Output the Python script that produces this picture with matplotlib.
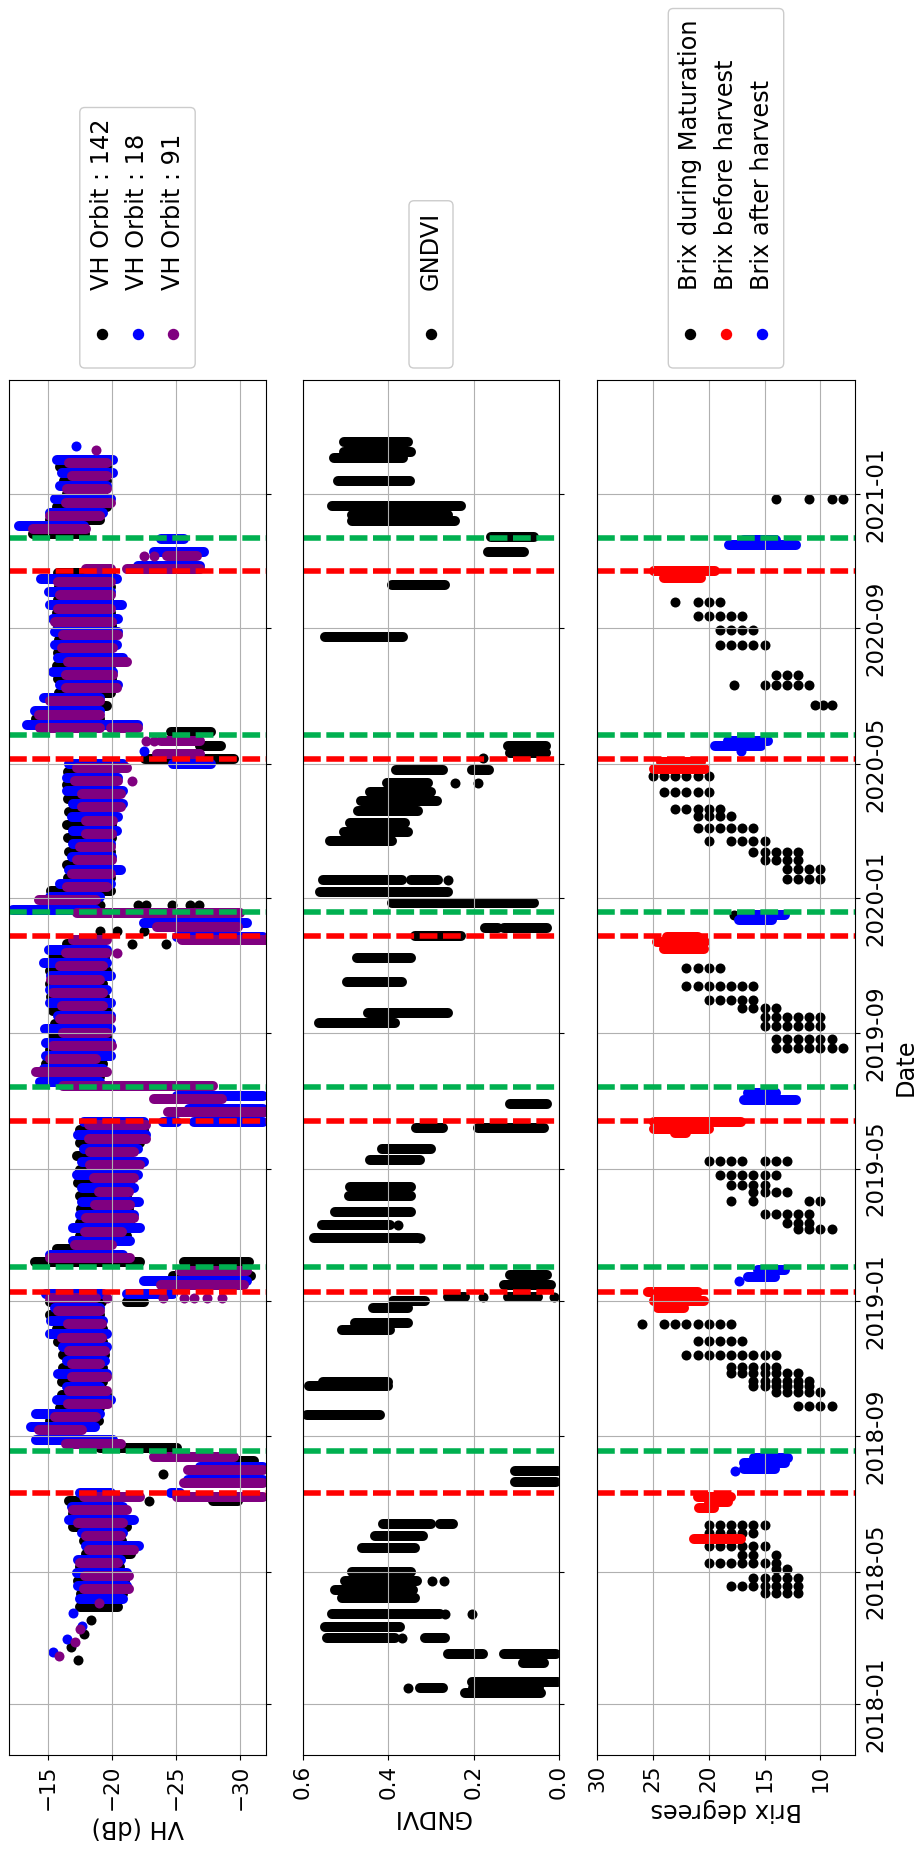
import numpy as np
import pandas as pd
import matplotlib
matplotlib.use('Agg')
from matplotlib import pyplot as plt
import matplotlib.dates as mdates
from matplotlib.lines import Line2D
from matplotlib.patches import FancyBboxPatch
from matplotlib.transforms import IdentityTransform

# figure is drawn "turned": dates run upwards, values run across
W, H, DPI = 914, 1851, 100
FS_TICK, FS_DATE, FS_LAB = 15.5, 16.5, 17.3
MS = 7.2                      # marker diameter in points
RED, GREEN = '#ff0000', '#00b050'

# ---- harvest markers (dashed lines) ----
harvest_dates = ['2018-07-11', '2019-01-09', '2019-06-13', '2019-11-28', '2020-05-06', '2020-10-23']
after_dates = ['2018-08-18', '2019-02-01', '2019-07-14', '2019-12-19', '2020-05-28', '2020-11-22']

# ---- VH, rows of pixels per acquisition: (date, from dB, to dB) ----
vh142_rows = [
    ('2018-03-30', -17.5, -20.5), ('2018-04-11', -17.6, -20.9), ('2018-04-23', -17.4, -21.0),
    ('2018-05-05', -17.5, -20.6), ('2018-05-17', -18.0, -21.5), ('2018-05-29', -17.8, -20.8),
    ('2018-06-10', -17.0, -21.2), ('2018-06-22', -17.0, -20.6), ('2018-07-04', -16.7, -19.9),
    ('2018-07-04', -27.9, -29.8), ('2018-08-09', -27.4, -31.1), ('2018-08-21', -19.1, -25.1),
    ('2018-09-14', -15.2, -19.0), ('2018-09-26', -16.0, -19.1), ('2018-10-08', -16.1, -19.6),
    ('2018-10-20', -16.1, -19.3), ('2018-11-01', -16.2, -19.3), ('2018-11-13', -16.2, -19.5),
    ('2018-11-25', -15.8, -19.3), ('2018-12-07', -15.7, -19.3), ('2018-12-19', -15.2, -19.1),
    ('2018-12-31', -15.2, -19.2), ('2018-12-31', -21.2, -22.5), ('2019-01-24', -24.8, -30.8),
    ('2019-02-05', -14.0, -22.2), ('2019-02-05', -25.6, -30.7), ('2019-02-17', -15.7, -19.1),
    ('2019-03-01', -17.5, -21.2), ('2019-03-13', -17.5, -21.4), ('2019-03-25', -17.6, -21.3),
    ('2019-04-06', -17.5, -21.2), ('2019-04-18', -17.4, -21.4), ('2019-04-30', -17.5, -21.7),
    ('2019-05-12', -17.3, -21.2), ('2019-05-24', -17.5, -22.2), ('2019-06-05', -17.5, -22.5),
    ('2019-07-23', -15.2, -19.1), ('2019-08-04', -14.9, -19.3), ('2019-08-16', -15.2, -19.6),
    ('2019-08-28', -15.4, -19.6), ('2019-09-09', -15.6, -19.7), ('2019-09-21', -15.4, -19.6),
    ('2019-10-03', -15.3, -19.5), ('2019-10-15', -15.2, -19.3), ('2019-10-27', -15.2, -19.6),
    ('2019-11-08', -15.4, -19.5), ('2019-11-20', -16.5, -19.1), ('2020-01-07', -15.3, -19.9),
    ('2020-01-19', -16.6, -19.9), ('2020-01-31', -16.5, -19.8), ('2020-02-12', -16.7, -19.9),
    ('2020-02-24', -16.6, -20.0), ('2020-03-07', -16.5, -20.0), ('2020-03-19', -16.7, -20.1),
    ('2020-03-31', -16.6, -20.2), ('2020-04-12', -16.5, -20.1), ('2020-04-24', -16.6, -20.2),
    ('2020-05-06', -22.6, -29.5), ('2020-05-18', -26.9, -28.5), ('2020-05-30', -24.6, -27.7),
    ('2020-06-11', -14.1, -19.1), ('2020-06-23', -15.8, -19.6), ('2020-07-05', -15.9, -19.9),
    ('2020-07-17', -15.8, -20.0), ('2020-07-29', -15.7, -19.9), ('2020-08-10', -15.8, -19.8),
    ('2020-08-22', -15.9, -19.9), ('2020-09-03', -15.8, -20.0), ('2020-09-15', -15.7, -19.9),
    ('2020-09-27', -15.8, -19.8), ('2020-10-09', -15.9, -19.9), ('2020-10-21', -15.8, -19.9),
    ('2020-11-26', -13.9, -17.9), ('2020-12-08', -15.2, -19.1), ('2020-12-20', -15.7, -19.6),
    ('2021-01-01', -16.5, -19.3), ('2021-01-13', -16.3, -19.6), ('2021-01-25', -16.0, -19.6),
]
vh142_points = [
    ('2018-02-10', -17.4), ('2018-02-22', -16.8), ('2018-03-06', -17.8), ('2018-03-18', -18.4),
    ('2018-07-04', -22.9), ('2018-07-28', -24.0), ('2019-11-20', -21.6), ('2019-11-20', -24.2),
    ('2019-12-02', -19.1), ('2019-12-02', -20.4), ('2019-12-02', -22.5), ('2019-12-26', -19.1),
    ('2019-12-26', -22.0), ('2019-12-26', -22.7), ('2019-12-26', -24.7), ('2019-12-26', -26.1),
    ('2019-12-26', -26.8),
]
vh18_rows = [
    ('2018-04-06', -17.5, -20.9), ('2018-04-18', -17.4, -21.2), ('2018-04-30', -17.3, -21.2),
    ('2018-05-12', -17.4, -20.7), ('2018-05-24', -18.0, -22.1), ('2018-06-05', -17.7, -20.9),
    ('2018-06-17', -16.7, -21.7), ('2018-06-29', -16.9, -20.9), ('2018-07-11', -17.5, -19.9),
    ('2018-07-11', -24.6, -25.3), ('2018-07-23', -25.9, -31.8), ('2018-08-04', -26.9, -31.8),
    ('2018-08-28', -14.1, -20.1), ('2018-09-09', -13.75, -18.7), ('2018-09-21', -14.1, -19.1),
    ('2018-10-03', -15.7, -19.9), ('2018-10-15', -16.5, -19.1), ('2018-10-27', -15.8, -19.6),
    ('2018-11-08', -16.5, -19.5), ('2018-11-20', -16.2, -19.6), ('2018-12-02', -15.2, -19.6),
    ('2018-12-14', -15.3, -19.3), ('2018-12-26', -15.6, -19.1), ('2019-01-07', -14.9, -19.3),
    ('2019-01-07', -21.2, -24.8), ('2019-01-19', -22.5, -30.5), ('2019-02-12', -15.2, -20.9),
    ('2019-02-24', -17.0, -21.4), ('2019-03-08', -17.0, -22.2), ('2019-03-20', -17.5, -21.7),
    ('2019-04-01', -17.7, -22.1), ('2019-04-13', -17.7, -21.7), ('2019-04-25', -17.3, -22.0),
    ('2019-05-07', -17.7, -22.5), ('2019-05-19', -17.8, -22.0), ('2019-05-31', -17.4, -22.7),
    ('2019-06-12', -17.8, -22.5), ('2019-06-12', -24.0, -25.1), ('2019-06-12', -26.4, -31.8),
    ('2019-06-24', -26.0, -31.8), ('2019-07-06', -25.1, -31.8), ('2019-07-18', -14.4, -19.1),
    ('2019-07-30', -14.7, -19.3), ('2019-08-11', -14.9, -19.9), ('2019-08-23', -14.9, -19.9),
    ('2019-09-04', -14.8, -19.9), ('2019-09-16', -15.8, -19.9), ('2019-09-28', -15.2, -19.9),
    ('2019-10-10', -15.2, -19.6), ('2019-10-22', -15.3, -19.9), ('2019-11-03', -14.7, -19.6),
    ('2019-11-15', -15.1, -19.6), ('2019-11-27', -25.1, -31.8), ('2019-12-09', -22.5, -30.5),
    ('2019-12-21', -12.3, -18.8), ('2020-01-02', -15.2, -19.1), ('2020-01-14', -16.0, -19.9),
    ('2020-01-26', -16.7, -20.7), ('2020-02-07', -16.9, -20.0), ('2020-02-19', -17.0, -19.9),
    ('2020-03-02', -17.0, -20.4), ('2020-03-14', -16.9, -20.5), ('2020-03-26', -17.0, -20.9),
    ('2020-04-07', -16.5, -20.9), ('2020-04-19', -16.5, -20.5), ('2020-05-01', -16.7, -20.9),
    ('2020-05-01', -24.8, -27.7), ('2020-06-06', -13.4, -22.0), ('2020-06-18', -14.0, -19.1),
    ('2020-06-30', -14.7, -19.1), ('2020-07-12', -16.0, -20.5), ('2020-07-24', -15.4, -20.1),
    ('2020-08-05', -15.8, -20.9), ('2020-08-17', -15.6, -20.4), ('2020-08-29', -15.6, -20.5),
    ('2020-09-10', -15.4, -20.5), ('2020-09-22', -15.2, -20.8), ('2020-10-04', -15.1, -19.9),
    ('2020-10-16', -14.5, -20.4), ('2020-10-28', -22.0, -26.9), ('2020-11-09', -23.3, -27.2),
    ('2020-11-21', -23.8, -25.6), ('2020-12-03', -12.8, -17.8), ('2020-12-15', -15.2, -19.3),
    ('2020-12-27', -15.6, -19.9), ('2021-01-08', -16.0, -19.6), ('2021-01-20', -16.1, -20.1),
    ('2021-02-01', -15.7, -20.1),
]
vh18_points = [
    ('2018-02-17', -15.4), ('2018-03-01', -16.5), ('2018-03-13', -17.7), ('2018-03-25', -17.0),
    ('2020-05-13', -22.5), ('2021-02-13', -17.2),
]
vh91_rows = [
    ('2018-04-15', -17.8, -21.3), ('2018-04-27', -17.9, -21.3), ('2018-05-09', -17.5, -20.5),
    ('2018-05-21', -18.2, -21.7), ('2018-06-02', -18.0, -20.7), ('2018-06-14', -17.4, -20.9),
    ('2018-06-26', -17.0, -21.2), ('2018-07-08', -17.8, -22.2), ('2018-07-08', -25.1, -31.8),
    ('2018-07-20', -25.6, -31.8), ('2018-08-01', -25.9, -31.8), ('2018-08-13', -23.3, -29.5),
    ('2018-08-25', -16.4, -20.7), ('2018-09-06', -14.3, -17.7), ('2018-09-18', -15.6, -18.8),
    ('2018-09-30', -16.6, -19.7), ('2018-10-12', -16.7, -19.6), ('2018-10-24', -16.9, -19.6),
    ('2018-11-05', -16.9, -19.1), ('2018-11-17', -16.7, -19.5), ('2018-11-29', -16.1, -19.2),
    ('2018-12-11', -16.6, -19.2), ('2018-12-23', -15.8, -19.1), ('2019-01-04', -15.2, -18.8),
    ('2019-01-16', -23.8, -30.3), ('2019-01-28', -25.3, -30.5), ('2019-02-09', -15.2, -21.4),
    ('2019-02-21', -17.1, -20.0), ('2019-03-05', -17.9, -20.8), ('2019-03-17', -18.0, -21.7),
    ('2019-03-29', -18.7, -21.4), ('2019-04-10', -19.0, -21.3), ('2019-04-22', -18.6, -21.7),
    ('2019-05-04', -18.3, -22.2), ('2019-05-16', -18.3, -21.7), ('2019-05-28', -18.2, -22.7),
    ('2019-06-09', -18.2, -22.7), ('2019-06-21', -24.4, -32.0), ('2019-07-03', -23.3, -28.6),
    ('2019-07-15', -16.2, -27.9), ('2019-07-27', -14.1, -19.6), ('2019-08-08', -15.2, -18.8),
    ('2019-08-20', -15.4, -20.0), ('2019-09-01', -16.2, -19.6), ('2019-09-13', -16.0, -19.9),
    ('2019-09-25', -16.1, -19.3), ('2019-10-07', -15.4, -19.3), ('2019-10-19', -15.3, -19.1),
    ('2019-10-31', -16.0, -19.3), ('2019-11-12', -16.4, -19.6), ('2019-11-24', -17.0, -19.6),
    ('2019-11-24', -25.5, -32.0), ('2019-12-06', -23.5, -29.8), ('2019-12-18', -17.3, -30.0),
    ('2019-12-30', -14.3, -18.8), ('2020-01-11', -16.5, -19.6), ('2020-01-23', -16.9, -19.9),
    ('2020-02-04', -17.3, -20.0), ('2020-02-16', -17.5, -19.9), ('2020-02-28', -18.0, -20.0),
    ('2020-03-11', -18.0, -20.1), ('2020-03-23', -17.7, -20.7), ('2020-04-04', -17.7, -20.7),
    ('2020-04-16', -17.1, -20.5), ('2020-04-28', -17.3, -21.2), ('2020-05-10', -23.5, -26.9),
    ('2020-05-22', -23.8, -26.9), ('2020-06-03', -14.4, -19.1), ('2020-06-03', -19.9, -22.0),
    ('2020-06-15', -14.3, -19.1), ('2020-06-27', -15.2, -19.1), ('2020-07-09', -16.4, -20.4),
    ('2020-07-21', -16.4, -20.1), ('2020-08-02', -16.6, -21.2), ('2020-08-14', -16.1, -20.1),
    ('2020-08-26', -16.2, -20.5), ('2020-09-07', -15.6, -20.0), ('2020-09-19', -15.8, -19.9),
    ('2020-10-01', -16.0, -19.9), ('2020-10-13', -15.8, -19.9), ('2020-10-25', -18.0, -19.9),
    ('2020-10-25', -21.2, -26.9), ('2020-11-06', -24.3, -26.6), ('2020-11-30', -13.9, -18.0),
    ('2020-12-12', -15.2, -19.1), ('2020-12-24', -16.4, -19.9), ('2021-01-05', -16.5, -19.6),
    ('2021-01-17', -16.9, -19.6), ('2021-01-29', -16.7, -19.6),
]
vh91_points = [
    ('2018-02-14', -15.9), ('2018-02-26', -17.1), ('2018-03-10', -17.5), ('2018-04-03', -19.0),
    ('2019-01-04', -19.6), ('2019-01-04', -24.0), ('2019-01-04', -25.6), ('2019-01-04', -26.4),
    ('2019-01-04', -27.4), ('2019-01-04', -28.6), ('2019-11-12', -20.4), ('2020-04-16', -21.6),
    ('2020-05-22', -22.7), ('2020-05-22', -23.3), ('2020-11-06', -22.5), ('2020-11-06', -23.3),
    ('2021-02-10', -18.75),
]

# ---- GNDVI ----
gndvi_rows = [
    ('2018-01-11', 0.221, 0.042), ('2018-01-16', 0.201, 0.046), ('2018-01-16', 0.326, 0.272),
    ('2018-01-21', 0.205, 0.003), ('2018-02-07', 0.085, 0.034), ('2018-02-15', 0.260, 0.178),
    ('2018-02-15', 0.128, 0.007), ('2018-03-02', 0.544, 0.384), ('2018-03-02', 0.314, 0.268),
    ('2018-03-12', 0.548, 0.373), ('2018-03-24', 0.532, 0.280), ('2018-04-07', 0.509, 0.338),
    ('2018-04-14', 0.524, 0.342), ('2018-04-23', 0.501, 0.333), ('2018-05-01', 0.486, 0.346),
    ('2018-05-22', 0.462, 0.338), ('2018-06-02', 0.431, 0.318), ('2018-06-13', 0.412, 0.299),
    ('2018-06-13', 0.279, 0.248), ('2018-07-21', 0.104, 0.007), ('2018-07-31', 0.104, 0.003),
    ('2018-09-20', 0.590, 0.419), ('2018-10-16', 0.587, 0.400), ('2018-10-20', 0.552, 0.400),
    ('2018-12-06', 0.509, 0.396), ('2018-12-12', 0.478, 0.353), ('2018-12-26', 0.435, 0.353),
    ('2019-01-01', 0.388, 0.314), ('2019-01-05', 0.260, 0.221), ('2019-01-05', 0.120, 0.050),
    ('2019-01-16', 0.128, 0.019), ('2019-01-25', 0.116, 0.027), ('2019-02-27', 0.575, 0.330),
    ('2019-03-11', 0.556, 0.396), ('2019-03-23', 0.524, 0.346), ('2019-04-06', 0.493, 0.346),
    ('2019-04-14', 0.489, 0.346), ('2019-05-09', 0.443, 0.326), ('2019-05-19', 0.416, 0.299),
    ('2019-06-07', 0.334, 0.272), ('2019-06-07', 0.190, 0.034), ('2019-06-28', 0.116, 0.027),
    ('2019-09-10', 0.563, 0.384), ('2019-09-19', 0.447, 0.260), ('2019-10-17', 0.497, 0.369),
    ('2019-11-08', 0.474, 0.346), ('2019-11-28', 0.338, 0.229), ('2019-12-05', 0.174, 0.143),
    ('2019-12-05', 0.128, 0.027), ('2019-12-27', 0.392, 0.058), ('2020-01-06', 0.560, 0.260),
    ('2020-01-17', 0.552, 0.369), ('2020-01-17', 0.346, 0.283), ('2020-02-22', 0.536, 0.392),
    ('2020-03-01', 0.505, 0.353), ('2020-03-09', 0.489, 0.361), ('2020-03-20', 0.470, 0.330),
    ('2020-03-29', 0.464, 0.287), ('2020-04-06', 0.443, 0.299), ('2020-04-14', 0.404, 0.307),
    ('2020-04-26', 0.381, 0.272), ('2020-04-26', 0.205, 0.163), ('2020-05-11', 0.116, 0.030),
    ('2020-05-18', 0.120, 0.030), ('2020-08-24', 0.548, 0.365), ('2020-10-10', 0.392, 0.268),
    ('2020-11-09', 0.167, 0.081), ('2020-11-23', 0.159, 0.058), ('2020-12-07', 0.486, 0.244),
    ('2020-12-13', 0.486, 0.260), ('2020-12-21', 0.532, 0.229), ('2021-01-13', 0.517, 0.349),
    ('2021-02-02', 0.528, 0.365), ('2021-02-08', 0.505, 0.346), ('2021-02-17', 0.505, 0.353),
]
gndvi_points = [
    ('2018-01-16', 0.353), ('2018-03-02', 0.369), ('2018-03-24', 0.268), ('2018-03-24', 0.205),
    ('2018-04-23', 0.298), ('2018-04-23', 0.270), ('2019-01-05', 0.178), ('2019-01-05', 0.011),
    ('2019-02-27', 0.326), ('2019-03-11', 0.377), ('2020-01-17', 0.259), ('2020-04-14', 0.244),
    ('2020-04-14', 0.190), ('2020-05-07', 0.178),
]

# ---- Brix ----
brix_maturation = [
    ('2018-04-12', [15, 14, 13, 12]), ('2018-04-18', [18, 17, 16, 15, 14, 13, 12]),
    ('2018-04-25', [16, 15, 14, 13, 12]), ('2018-05-03', [14, 13]),
    ('2018-05-09', [20, 19, 18, 17, 16, 15, 14]), ('2018-05-16', [17, 16, 14]),
    ('2018-05-24', [20, 19, 18, 17, 16, 15]), ('2018-06-05', [20, 19, 18, 17, 16]),
    ('2018-06-12', [20, 19, 18, 17, 16, 15]),
    ('2018-09-28', [12, 11, 10, 9]), ('2018-10-11', [14, 13, 12, 11, 10]),
    ('2018-10-16', [16, 15, 14, 13, 12, 11]), ('2018-10-21', [16, 15, 14, 13, 12, 11]),
    ('2018-10-28', [18, 17, 16, 15, 14, 13, 12]), ('2018-11-02', [18, 17, 16, 15, 14]),
    ('2018-11-13', [22, 21, 20, 19, 18, 17, 16, 15, 14]), ('2018-11-26', [21, 20, 19, 18, 17]),
    ('2018-12-11', [26, 24, 23, 22, 21, 20, 19, 18]),
    ('2019-03-07', [12, 11, 10, 9]), ('2019-03-13', [13, 12, 11]),
    ('2019-03-21', [15, 14, 13, 12, 11]), ('2019-04-02', [18, 16, 11, 10]),
    ('2019-04-10', [16, 15, 14, 13]), ('2019-04-16', [18, 17, 16, 15]),
    ('2019-04-25', [19, 18, 17, 16, 15, 14]), ('2019-05-08', [20, 19, 18, 17, 15, 14, 13]),
    ('2019-08-18', [14, 13, 12, 11, 10, 9, 8]), ('2019-08-26', [14, 13, 12, 11, 10, 9]),
    ('2019-09-07', [15, 14, 13, 12, 11, 10]), ('2019-09-15', [15, 14, 13, 12, 11, 10]),
    ('2019-09-23', [17, 16, 15, 14]), ('2019-10-01', [20, 19, 18, 17, 16]),
    ('2019-10-13', [22, 21, 20, 19, 18, 17, 16]), ('2019-10-30', [22, 21, 20, 19]),
    ('2019-12-17', [17.7]),
    ('2020-01-18', [13, 12, 11, 10]), ('2020-01-27', [13, 12, 11, 10]),
    ('2020-02-04', [15, 14, 13, 12]), ('2020-02-12', [16, 15, 14, 13, 12]),
    ('2020-02-22', [20, 18, 17, 16, 15]), ('2020-03-04', [21, 20, 19, 18, 17, 16]),
    ('2020-03-15', [21, 20, 19, 18]), ('2020-03-22', [23, 22, 21, 20, 19]),
    ('2020-04-06', [24, 23, 22, 21, 20]), ('2020-04-20', [25, 24, 23, 22, 21, 20]),
    ('2020-06-24', [10.5, 9.8, 9.0]), ('2020-07-12', [17.7, 15, 14, 13, 12, 11]),
    ('2020-07-21', [14, 13, 12]), ('2020-08-17', [19, 18, 17, 16, 15]),
    ('2020-08-31', [19, 18, 17, 16]), ('2020-09-12', [21, 20, 19, 18, 17]),
    ('2020-09-25', [23, 21, 20, 19]), ('2020-12-27', [14, 11, 9, 8]),
]
brix_before_rows = [
    ('2018-05-31', 21.3, 17.1), ('2018-06-28', 20.9, 19.5), ('2018-07-03', 20.0, 18.3),
    ('2018-07-08', 21.0, 18.0), ('2018-12-26', 24.5, 22.2), ('2019-01-01', 24.9, 20.4),
    ('2019-01-09', 25.4, 21.0), ('2019-06-02', 23.0, 22.0), ('2019-06-06', 24.9, 20.0),
    ('2019-06-12', 24.9, 17.1), ('2019-11-16', 24.0, 20.4), ('2019-11-22', 24.6, 20.3),
    ('2019-11-27', 23.7, 21.0), ('2020-04-27', 24.9, 20.3), ('2020-05-03', 24.3, 20.7),
    ('2020-10-17', 24.0, 20.7), ('2020-10-23', 24.9, 19.4),
]
brix_after_rows = [
    ('2018-08-02', 16.8, 14.1), ('2018-08-07', 16.8, 13.2), ('2018-08-12', 15.9, 12.9),
    ('2019-01-23', 16.5, 14.1), ('2019-01-29', 15.6, 13.2), ('2019-07-02', 16.8, 12.2),
    ('2019-07-08', 16.5, 14.0), ('2019-12-12', 17.3, 14.3), ('2019-12-17', 17.0, 13.2),
    ('2020-05-18', 19.4, 15.3), ('2020-05-22', 18.3, 14.7), ('2020-11-16', 18.2, 12.2),
    ('2020-11-20', 16.8, 14.0),
]
brix_after_points = [('2018-07-31', 17.6), ('2019-01-19', 17.3), ('2020-05-13', 17.1)]


def dnum(dates):
    return mdates.date2num(pd.to_datetime(dates))


def draw_rows(ax, rows, color, z):
    # a row of touching dots drawn as one rounded stroke of dot width
    ax.hlines(dnum([r[0] for r in rows]), [r[1] for r in rows], [r[2] for r in rows],
              colors=color, lw=MS, capstyle='round', zorder=z)


def draw_points(ax, pts, color, z):
    ax.scatter([p[1] for p in pts], dnum([p[0] for p in pts]), s=MS ** 2, c=color,
               linewidths=0, zorder=z)


fig = plt.figure(figsize=(W / DPI, H / DPI), dpi=DPI)


def make_axes(x, w):
    return fig.add_axes([x / W, (H - 1755) / H, w / W, 1375 / H])


ax_vh = make_axes(9, 257)
ax_g = make_axes(303, 256)
ax_b = make_axes(597, 258)

draw_rows(ax_vh, vh142_rows, 'black', 1.0)
draw_points(ax_vh, vh142_points, 'black', 1.0)
draw_rows(ax_vh, vh18_rows, 'blue', 1.1)
draw_points(ax_vh, vh18_points, 'blue', 1.1)
draw_rows(ax_vh, vh91_rows, 'purple', 1.2)
draw_points(ax_vh, vh91_points, 'purple', 1.2)

draw_rows(ax_g, gndvi_rows, 'black', 1.0)
draw_points(ax_g, gndvi_points, 'black', 1.0)

mat_pts = [(d, v) for d, vals in brix_maturation for v in vals]
draw_points(ax_b, mat_pts, 'black', 1.0)
draw_rows(ax_b, brix_before_rows, 'red', 1.1)
draw_rows(ax_b, brix_after_rows, 'blue', 1.2)
draw_points(ax_b, brix_after_points, 'blue', 1.2)

ylo, yhi = dnum(['2017-11-16', '2021-04-14'])
for ax in (ax_vh, ax_g, ax_b):
    for d in dnum(harvest_dates):
        ax.axhline(d, color=RED, ls=(0, (3.2, 1.0)), lw=4, zorder=2)
    for d in dnum(after_dates):
        ax.axhline(d, color=GREEN, ls=(0, (3.2, 1.0)), lw=4, zorder=2)
    ax.set_ylim(ylo, yhi)
    ax.yaxis.set_major_locator(mdates.MonthLocator(bymonth=(1, 5, 9)))
    ax.yaxis.set_major_formatter(mdates.DateFormatter('%Y-%m'))
    ax.yaxis.tick_right()
    ax.tick_params(axis='y', labelright=(ax is ax_b), labelrotation=90, labelsize=FS_DATE)
    ax.tick_params(axis='x', labelrotation=90, labelsize=FS_TICK)
    ax.grid(True)

ax_vh.set_xlim(-12, -32)
ax_vh.set_xticks([-15, -20, -25, -30])
ax_g.set_xlim(0.6, 0.0)
ax_g.set_xticks([0.6, 0.4, 0.2, 0.0])
ax_b.set_xlim(30, 6.9)
ax_b.set_xticks([30, 25, 20, 15, 10])

ax_vh.set_xlabel('VH (dB)', rotation=180, fontsize=FS_LAB)
ax_g.set_xlabel('GNDVI', rotation=180, fontsize=FS_LAB)
ax_b.set_xlabel('Brix degrees', rotation=180, fontsize=FS_LAB)
ax_b.yaxis.set_label_position('right')
ax_b.set_ylabel('Date', rotation=90, fontsize=FS_LAB)
plt.setp(ax_b.get_yticklabels(), va='center')


def add_legend(ax, labels, colors):
    # legend sits above each panel, entries turned like the rest of the chart
    bb = ax.get_window_extent()
    width = 44 + 35.7 * (len(labels) - 1)
    x0 = (bb.x0 + bb.x1) / 2 - width / 2
    y0 = bb.y1 + 12
    texts = []
    for i, (lab, col) in enumerate(zip(labels, colors)):
        xc = x0 + 22 + 35.7 * i
        fig.add_artist(Line2D([xc], [y0 + 34], marker='o', ms=MS, color=col, ls='none',
                              transform=IdentityTransform(), zorder=2))
        texts.append(fig.text(xc, y0 + 78, lab, rotation=90, ha='center', va='bottom',
                              fontsize=FS_LAB, transform=IdentityTransform(), zorder=3))
    fig.canvas.draw()
    top = max(t.get_window_extent().y1 for t in texts) + 11
    fig.add_artist(FancyBboxPatch((x0, y0), width, top - y0,
                                  boxstyle='round,pad=0,rounding_size=5',
                                  transform=IdentityTransform(), fc='white', ec='0.8',
                                  lw=1.0, zorder=1))


add_legend(ax_vh, ['VH Orbit : 142', 'VH Orbit : 18', 'VH Orbit : 91'], ['black', 'blue', 'purple'])
add_legend(ax_g, ['GNDVI'], ['black'])
add_legend(ax_b, ['Brix during Maturation', 'Brix before harvest', 'Brix after harvest'],
           ['black', 'red', 'blue'])

fig.savefig('out.png', dpi=DPI)
